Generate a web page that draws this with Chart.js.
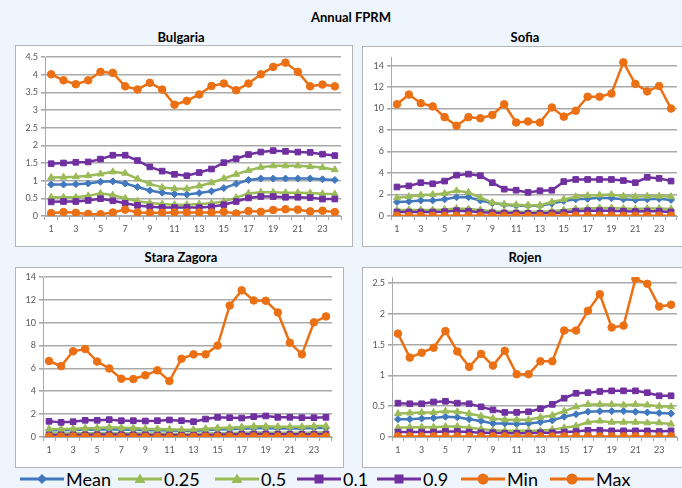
<!DOCTYPE html>
<html>
<head>
<meta charset="utf-8">
<script src="https://cdn.jsdelivr.net/npm/chart.js@4.4.0/dist/chart.umd.min.js"></script>
<style>
html, body { margin: 0; padding: 0; width: 682px; height: 488px; overflow: hidden; background: #eef5fc; font-family: Lato, sans-serif; }
.title { position: absolute; font-weight: bold; font-size: 13px; color: #000; transform: translateX(-50%); white-space: nowrap; line-height: 1; }
.panel { position: absolute; z-index: 2; background: #fff; border: 1px solid #b4b4b4; box-sizing: border-box; }
.panel.cut { border-right: none; }
.panel canvas { position: absolute; left: 0; top: 0; }
#legend { position: absolute; z-index: 1; left: 0; top: 470px; width: 682px; height: 18px; overflow: hidden; }
.leg { position: absolute; top: 0; height: 18px; display: flex; align-items: center; font-size: 18px; line-height: 18px; color: #000; white-space: nowrap; }
.leg svg { margin-right: 2px; }
</style>
</head>
<body>

<div id="legend"></div>

<div class="title" style="left:351px; top:11px;">Annual FPRM</div>
<div class="title" style="left:181px; top:31px;">Bulgaria</div>
<div class="title" style="left:525px; top:31px;">Sofia</div>
<div class="title" style="left:181px; top:251px;">Stara Zagora</div>
<div class="title" style="left:525px; top:251px;">Rojen</div>

<div class="panel" style="left:15px; top:45px; width:338px; height:202px;"><canvas id="bg" width="336" height="200"></canvas></div>
<div class="panel cut" style="left:362px; top:46px; width:320px; height:201px;"><canvas id="sf" width="319" height="199"></canvas></div>
<div class="panel" style="left:15px; top:267px; width:329px; height:201px;"><canvas id="sz" width="327" height="199"></canvas></div>
<div class="panel cut" style="left:362px; top:267px; width:320px; height:201px;"><canvas id="rj" width="319" height="199"></canvas></div>

<script>
// 시간 (1~24)
const hours = ['1','2','3','4','5','6','7','8','9','10','11','12','13','14','15','16','17','18','19','20','21','22','23','24'];

// 시리즈 이름 / 색상 / 마커
const seriesNames = ['Mean', '0.25', '0.5', '0.1', '0.9', 'Min', 'Max'];
const seriesColors = ['#4178be', '#9bbb59', '#9bbb59', '#7030a0', '#7030a0', '#eb7014', '#eb7014'];
const seriesMarkers = ['rectRot', 'triangle', 'triangle', 'rect', 'rect', 'circle', 'circle'];

// Bulgaria
const bgMean = [0.89,0.89,0.90,0.92,0.97,0.98,0.92,0.82,0.72,0.66,0.62,0.61,0.65,0.70,0.79,0.91,1.02,1.06,1.06,1.06,1.06,1.06,1.04,1.02];
const bgQ25 = [0.53,0.53,0.53,0.57,0.64,0.59,0.50,0.42,0.37,0.34,0.32,0.32,0.34,0.36,0.41,0.52,0.64,0.67,0.67,0.66,0.66,0.65,0.63,0.62];
const bgQ50 = [1.09,1.10,1.11,1.14,1.19,1.25,1.21,1.05,0.91,0.81,0.77,0.77,0.85,0.94,1.06,1.18,1.29,1.38,1.42,1.42,1.42,1.40,1.37,1.31];
const bgQ10 = [0.40,0.41,0.41,0.44,0.49,0.43,0.36,0.30,0.26,0.24,0.24,0.24,0.24,0.26,0.32,0.41,0.51,0.55,0.55,0.53,0.53,0.52,0.48,0.48];
const bgQ90 = [1.48,1.50,1.52,1.53,1.61,1.72,1.72,1.57,1.39,1.27,1.18,1.14,1.23,1.33,1.51,1.62,1.74,1.81,1.85,1.83,1.81,1.80,1.75,1.71];
const bgMin = [0.08,0.11,0.09,0.06,0.05,0.10,0.18,0.10,0.09,0.09,0.10,0.10,0.10,0.10,0.12,0.07,0.14,0.12,0.17,0.19,0.18,0.13,0.15,0.11];
const bgMax = [4.01,3.84,3.73,3.84,4.08,4.05,3.67,3.58,3.77,3.58,3.15,3.26,3.44,3.68,3.75,3.56,3.75,4.01,4.22,4.34,4.08,3.67,3.72,3.67];

// Sofia
const sfMean = [1.3,1.35,1.45,1.45,1.55,1.75,1.75,1.45,1.2,1.05,0.95,0.95,0.95,1.15,1.4,1.55,1.6,1.7,1.65,1.55,1.5,1.55,1.6,1.5];
const sfQ25 = [0.55,0.55,0.55,0.55,0.6,0.7,0.65,0.55,0.45,0.4,0.4,0.4,0.4,0.45,0.55,0.65,0.7,0.75,0.75,0.7,0.65,0.7,0.7,0.65];
const sfQ50 = [1.7,1.8,1.95,2.0,2.1,2.35,2.2,1.7,1.25,1.1,1.05,1.0,1.0,1.3,1.55,1.8,1.9,1.95,2.0,1.85,1.8,1.85,1.85,1.8];
const sfQ10 = [0.37,0.37,0.37,0.37,0.4,0.5,0.45,0.35,0.3,0.28,0.27,0.25,0.25,0.28,0.33,0.45,0.5,0.5,0.5,0.45,0.42,0.45,0.45,0.38];
const sfQ90 = [2.7,2.8,3.1,3.0,3.25,3.8,3.9,3.75,3.1,2.5,2.4,2.2,2.35,2.4,3.2,3.4,3.4,3.4,3.4,3.3,3.1,3.6,3.5,3.25];
const sfMin = [0.03,0.02,0.03,0.03,0.02,0.03,0.04,0.03,0.02,0.02,0.02,0.02,0.02,0.03,0.03,0.03,0.04,0.04,0.04,0.03,0.03,0.04,0.03,0.03];
const sfMax = [10.4,11.3,10.5,10.2,9.2,8.4,9.2,9.1,9.4,10.4,8.7,8.8,8.7,10.1,9.25,9.8,11.1,11.1,11.4,14.3,12.3,11.6,12.1,10.0];

// Stara Zagora
const szMean = [0.6,0.59,0.61,0.63,0.65,0.68,0.66,0.63,0.6,0.58,0.56,0.54,0.54,0.6,0.65,0.68,0.72,0.76,0.77,0.75,0.75,0.75,0.78,0.79];
const szQ25 = [0.32,0.31,0.32,0.33,0.34,0.36,0.35,0.33,0.31,0.3,0.29,0.28,0.28,0.3,0.32,0.34,0.37,0.39,0.4,0.38,0.38,0.38,0.4,0.41];
const szQ50 = [0.7,0.7,0.73,0.76,0.79,0.85,0.82,0.79,0.73,0.7,0.67,0.64,0.64,0.73,0.79,0.82,0.87,0.93,0.93,0.9,0.9,0.9,0.96,0.96];
const szQ10 = [0.18,0.18,0.18,0.19,0.2,0.21,0.2,0.19,0.18,0.17,0.17,0.16,0.16,0.17,0.19,0.21,0.24,0.26,0.27,0.25,0.24,0.24,0.25,0.26];
const szQ90 = [1.37,1.28,1.34,1.46,1.46,1.52,1.43,1.43,1.4,1.43,1.49,1.43,1.34,1.57,1.72,1.69,1.66,1.78,1.84,1.72,1.72,1.69,1.69,1.72];
const szMin = [0.03,0.03,0.04,0.03,0.03,0.04,0.03,0.03,0.02,0.02,0.02,0.02,0.02,0.03,0.03,0.04,0.04,0.05,0.05,0.04,0.04,0.04,0.05,0.05];
const szMax = [6.65,6.2,7.5,7.7,6.6,6.0,5.1,5.07,5.4,5.83,4.9,6.85,7.23,7.23,8.0,11.5,12.83,11.95,11.92,10.9,8.25,7.23,10.03,10.55];

// Rojen
const rjMean = [0.29,0.29,0.30,0.31,0.33,0.32,0.29,0.26,0.22,0.22,0.21,0.22,0.24,0.27,0.33,0.37,0.41,0.42,0.42,0.42,0.41,0.40,0.39,0.38];
const rjQ25 = [0.15,0.16,0.16,0.16,0.17,0.17,0.15,0.13,0.11,0.10,0.10,0.10,0.10,0.12,0.15,0.18,0.24,0.26,0.24,0.24,0.24,0.23,0.23,0.21];
const rjQ50 = [0.38,0.39,0.40,0.40,0.42,0.41,0.38,0.34,0.30,0.28,0.28,0.28,0.32,0.35,0.42,0.49,0.53,0.53,0.53,0.52,0.53,0.52,0.50,0.49];
const rjQ10 = [0.08,0.08,0.08,0.08,0.09,0.09,0.08,0.07,0.07,0.06,0.06,0.06,0.07,0.07,0.08,0.09,0.11,0.11,0.10,0.10,0.10,0.10,0.09,0.10];
const rjQ90 = [0.55,0.54,0.54,0.57,0.58,0.55,0.54,0.49,0.44,0.40,0.40,0.41,0.46,0.53,0.63,0.71,0.72,0.74,0.75,0.75,0.75,0.72,0.67,0.67];
const rjMin = [0.01,0.01,0.01,0.01,0.01,0.01,0.01,0.01,0.01,0.01,0.01,0.01,0.01,0.01,0.01,0.01,0.01,0.01,0.01,0.01,0.01,0.01,0.01,0.01];
const rjMax = [1.68,1.29,1.37,1.45,1.72,1.39,1.14,1.35,1.16,1.40,1.02,1.02,1.23,1.23,1.73,1.73,2.05,2.32,1.78,1.81,2.57,2.49,2.12,2.15];

const gridColor = '#a9a9a9';

// 범례 (선 + 마커)
const legendLefts = [20, 118, 215, 297, 377, 461, 550];
function markerSvg(style, color) {
    if (style === 'rectRot') return `<polygon points="22,4 27,9 22,14 17,9" fill="${color}"/>`;
    if (style === 'triangle') return `<polygon points="22,3.5 27.5,13 16.5,13" fill="${color}"/>`;
    if (style === 'rect') return `<rect x="17.5" y="4.5" width="9" height="9" fill="${color}"/>`;
    return `<circle cx="22" cy="9" r="5.5" fill="${color}"/>`;
}
const legendDiv = document.getElementById('legend');
seriesNames.forEach((name, i) => {
    const item = document.createElement('div');
    item.className = 'leg';
    item.style.left = legendLefts[i] + 'px';
    item.innerHTML = `<svg width="44" height="18"><line x1="0" y1="9" x2="44" y2="9" stroke="${seriesColors[i]}" stroke-width="3"/>${markerSvg(seriesMarkers[i], seriesColors[i])}</svg><span>${name}</span>`;
    legendDiv.appendChild(item);
});

// 패널 차트 생성
function makePanel(id, series, yMax, yStep, box) {
    const datasets = series.map((data, i) => ({
        label: seriesNames[i],
        data: data.slice(),
        borderColor: seriesColors[i],
        backgroundColor: seriesColors[i],
        pointBackgroundColor: seriesColors[i],
        pointBorderColor: seriesColors[i],
        pointStyle: seriesMarkers[i],
        pointRadius: seriesMarkers[i] === 'rectRot' ? 3.5 : (seriesMarkers[i] === 'circle' ? 3.8 : 4),
        pointBorderWidth: 1,
        borderWidth: 2.5,
        tension: 0,
        order: series.length - i
    }));
    const labels = hours.slice();

    return new Chart(document.getElementById(id), {
        type: 'line',
        data: { labels: labels, datasets: datasets },
        options: {
            responsive: false,
            animation: false,
            layout: { padding: { left: 0, top: box.top, right: box.right, bottom: 0 } },
            plugins: { legend: { display: false }, tooltip: { enabled: false } },
            scales: {
                x: {
                    position: 'bottom',
                    offset: true,
                    grid: { display: true, drawOnChartArea: false, drawTicks: true, tickLength: 4, color: gridColor, offset: true },
                    border: { display: true, color: gridColor, width: 1 },
                    ticks: {
                        display: true, autoSkip: false, maxRotation: 0, minRotation: 0, padding: 4,
                        color: '#595959', font: { family: 'Lato', size: 9 },
                        callback: (val, idx) => idx % 2 === 0 ? labels[idx] : ''
                    },
                    afterFit: s => { s.height = box.xh; }
                },
                y: {
                    min: 0,
                    max: yMax,
                    grid: { color: gridColor, lineWidth: 1.6, drawTicks: true, tickLength: 4 },
                    border: { display: true, color: gridColor, width: 1 },
                    ticks: {
                        stepSize: yStep, includeBounds: false, padding: 3, color: '#595959', font: { family: 'Lato', size: 9 },
                        callback: v => String(parseFloat(v.toFixed(2)))
                    },
                    afterFit: s => { s.width = box.yw; }
                }
            }
        }
    });
}

makePanel('bg', [bgMean, bgQ25, bgQ50, bgQ10, bgQ90, bgMin, bgMax], 4.5, 0.5, { yw: 29, top: 11, xh: 30, right: 11 });
makePanel('sf', [sfMean, sfQ25, sfQ50, sfQ10, sfQ90, sfMin, sfMax], 14.8, 2, { yw: 28, top: 10, xh: 30, right: 2 });
makePanel('sz', [szMean, szQ25, szQ50, szQ10, szQ90, szMin, szMax], 14, 2, { yw: 27, top: 9, xh: 30, right: 11 });
makePanel('rj', [rjMean, rjQ25, rjQ50, rjQ10, rjQ90, rjMin, rjMax], 2.6, 0.5, { yw: 29, top: 9, xh: 30, right: 0 });
</script>
</body>
</html>
